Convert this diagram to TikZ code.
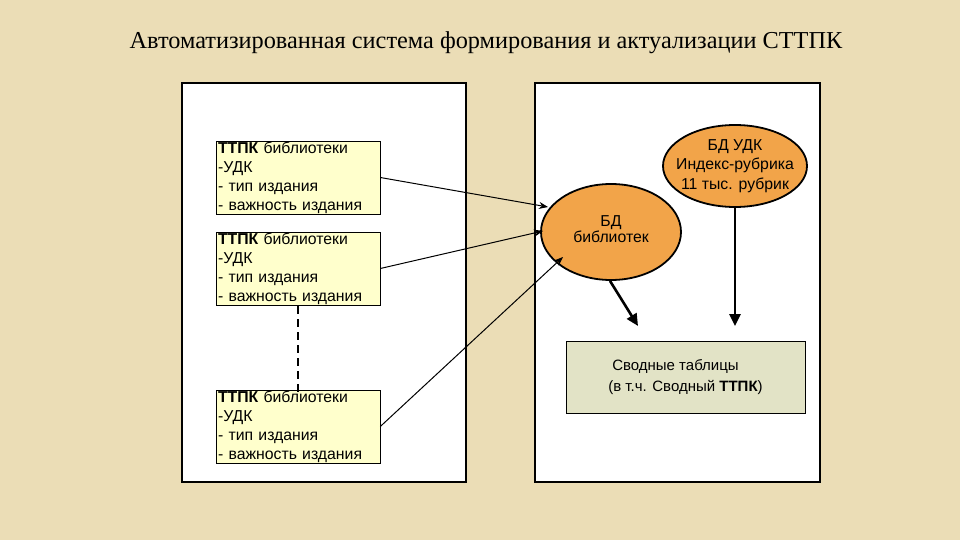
\documentclass[tikz,border=0pt]{standalone}
\usepackage{fontspec}
\setmainfont{Liberation Sans}
\newfontfamily\titlefont{Liberation Serif}
\usetikzlibrary{arrows.meta,shapes.geometric}
\definecolor{bgc}{HTML}{EBDDB6}
\definecolor{orng}{HTML}{F2A449}
\definecolor{ylw}{HTML}{FFFFCC}
\definecolor{smry}{HTML}{E2E3C6}
\tikzset{
  panel/.style={draw=black, line width=1.6pt, fill=white},
  ybox/.style={draw=black, line width=0.6pt, fill=ylw, minimum width=164, minimum height=73,
    text width=160pt, align=left, inner xsep=2pt, inner ysep=0pt, font=\fontsize{15.8}{19}\selectfont},
  oval/.style={ellipse, draw=black, line width=1.8pt, fill=orng, inner sep=0pt},
  ovaltext/.style={align=center, inner sep=0pt, font=\fontsize{15.8}{19.5}\selectfont},
  sbox/.style={draw=black, line width=0.6pt, fill=smry, minimum width=239, minimum height=72,
    align=center, font=\fontsize{15}{21}\selectfont},
  thin/.style={-{Stealth[length=9pt,width=7pt]}, line width=1pt},
  thick/.style={-{Triangle[length=12pt,width=11pt]}, line width=2.6pt},
}
\begin{document}
\begin{tikzpicture}[x=1pt,y=-1pt]
\fill[bgc] (0,0) rectangle (960,540);
\useasboundingbox (0,0) rectangle (960,540);
\node[font=\titlefont\fontsize{24.3}{28}\selectfont] (title) at (486,43) {Автоматизированная система формирования и актуализации СТТПК};
\draw[panel] (182,83) rectangle (466,482);
\draw[panel] (535,83) rectangle (820,482);
\node[ybox] (b1) at (298,177.5) {\textbf{ТТПК} библиотеки\\-УДК\\- тип издания\\- важность издания};
\node[ybox] (b2) at (298,268.5) {\textbf{ТТПК} библиотеки\\-УДК\\- тип издания\\- важность издания};
\node[ybox] (b3) at (298,426.5) {\textbf{ТТПК} библиотеки\\-УДК\\- тип издания\\- важность издания};
\draw[line width=2pt, dash pattern=on 8pt off 5pt] ([yshift=-1pt]b2.south) -- ([yshift=-5pt]b3.north);
\node[oval, minimum width=140, minimum height=96] (lib) at (611,232) {};
\node[ovaltext, font=\fontsize{15.8}{16.5}\selectfont] (libt) at (611,229) {БД\\библиотек};
\node[oval, minimum width=144, minimum height=82] (udk) at (735,166) {};
\node[ovaltext] (udkt) at (735,166) {БД УДК\\Индекс-рубрика\\11 тыс. рубрик};
\node[sbox] (sum) at (685.5,377) {\hspace*{-20pt}Сводные таблицы\\(в т.ч. Сводный \textbf{ТТПК})};
\coordinate (t1) at (548,207);
\coordinate (t2) at (543,231);
\coordinate (t3) at (563,257);
\draw[thin] (b1.east) -- (t1);
\draw[thin] (b2.east) -- (t2);
\draw[thin] (b3.east) -- (t3);
\coordinate (s1) at (638,326);
\coordinate (s2) at (735,326);
\draw[thick] (lib.south) ++(-1,0) -- (s1);
\draw[thick] (udk.south) -- (s2);
\end{tikzpicture}
\end{document}
